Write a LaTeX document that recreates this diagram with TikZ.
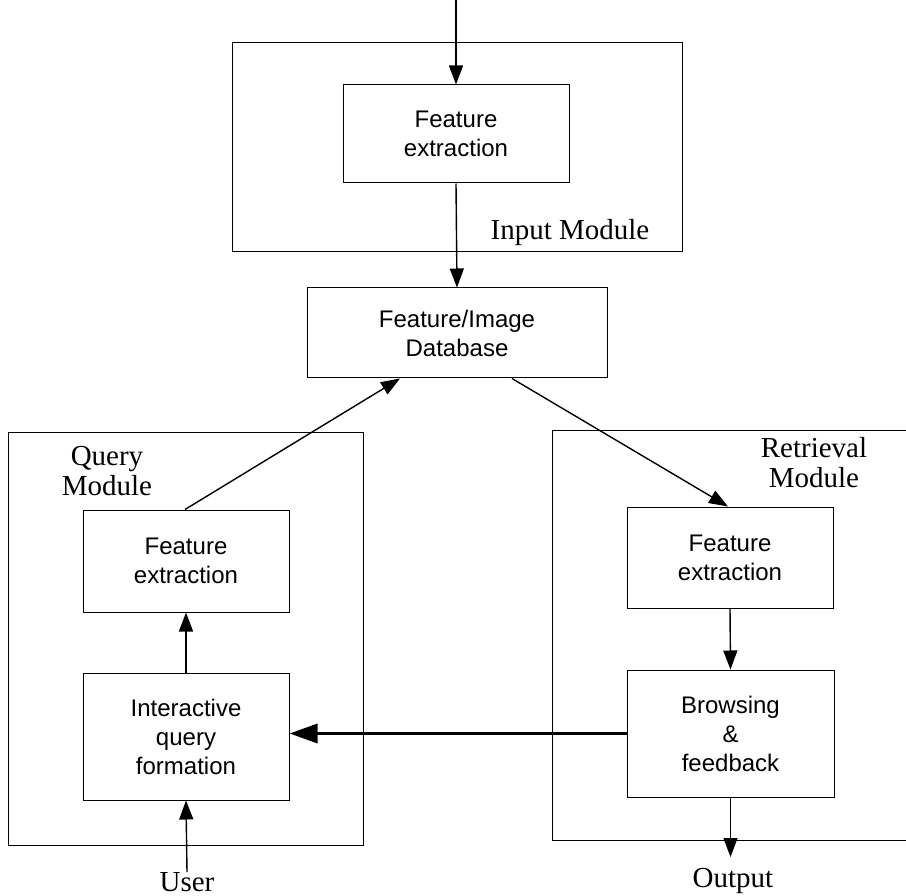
\documentclass[tikz,border=0pt]{standalone}
\usepackage{fontspec}
\setmainfont{Liberation Serif}
\newfontfamily\arialfont{Liberation Sans}
\usetikzlibrary{arrows.meta}
\begin{document}
\begin{tikzpicture}[x=1pt,y=-1pt,
  blk/.style={draw,line width=1pt,inner sep=0pt,align=center,font=\arialfont\fontsize{24}{29}\selectfont},
  modbox/.style={draw,line width=0.9pt},
  lbl/.style={inner sep=0pt,align=center,font=\fontsize{29}{30}\selectfont},
  conn/.style={line width=1.4pt,-{Triangle[length=19pt,width=14pt]}},
  bigconn/.style={line width=3.2pt,-{Triangle[length=28pt,width=19pt]}}]
\useasboundingbox (0,0) rectangle (906,896);
% module frames
\draw[modbox] (232,42) rectangle (682,251);
\draw[modbox] (8,432) rectangle (363,845);
\draw[modbox] (906,430) -- (552,430) -- (552,840) -- (906,840);
% blocks
\node[blk,minimum width=226pt,minimum height=98pt] (fe1) at (456,134) {Feature\\extraction};
\node[blk,minimum width=300pt,minimum height=90pt] (db) at (457,333) {Feature/Image\\Database};
\node[blk,minimum width=206pt,minimum height=102pt] (fe2) at (186,561) {Feature\\extraction};
\node[blk,minimum width=206pt,minimum height=127pt] (iqf) at (186,736.5) {Interactive\\query\\formation};
\node[blk,minimum width=206pt,minimum height=101pt] (fe3) at (730,557.5) {Feature\\extraction};
\node[blk,minimum width=207pt,minimum height=127pt] (bf) at (730.5,733.5) {Browsing\\\&\\feedback};
% labels
\node[lbl] (inlbl) at (570,233) {Input Module};
\node[lbl] (qlbl) at (107,471) {Query\\Module};
\node[lbl] (rlbl) at (814,463) {Retrieval\\Module};
\node[lbl] (user) at (187,882) {User};
\node[lbl] (outlbl) at (733,881) {Output};
\coordinate (src) at (456,0);
\coordinate (outend) at (730.5,857);
% connectors
\draw[conn] (src) -- (fe1.north);
\draw[conn] (fe1.south) -- (db.north);
\draw[conn] ([xshift=-1pt]fe2.north) -- ([xshift=-57pt]db.south);
\draw[conn] ([xshift=55pt]db.south) -- ([xshift=-2pt]fe3.north);
\draw[conn] (iqf.north) -- (fe2.south);
\draw[conn] (fe3.south) -- (bf.north);
\draw[bigconn] (bf.west) -- (bf.west -| iqf.east);
\draw[conn] (user.north) -- (iqf.south);
\draw[conn] (bf.south) -- (outend);
\end{tikzpicture}
\end{document}
